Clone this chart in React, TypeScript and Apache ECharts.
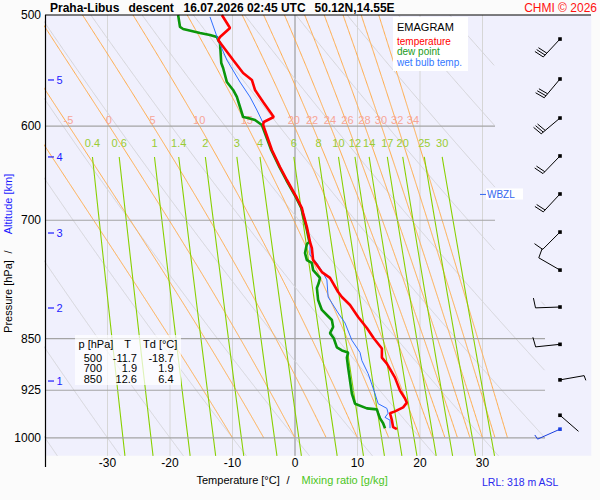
import React, { useEffect, useRef } from 'react';
import * as echarts from 'echarts';

const FONT = '"Liberation Sans", Arial, Helvetica, sans-serif';

// ---------------- data (pressure hPa, temperature °C) ----------------
const tempP = [500, 510.8, 518.4, 520.9, 538.3, 549.9, 556.2, 565.4, 576.6, 591.0, 595.9, 598.8, 623.8, 641.5, 655.3, 674.9, 686.1, 691.8, 707.8, 725.4, 732.6, 747.2, 753.3, 762.1, 769.4, 787.4, 793.9, 804.3, 820.3, 835.3, 849.4, 863.7, 876.8, 885.4, 906.0, 925.6, 937.6, 944.0, 951.3, 957.6, 960.5, 971.5, 982.7, 985.9];
const tempT = [-11.7, -10.4, -12.0, -12.3, -9.9, -8.3, -6.9, -6.4, -5.1, -3.4, -5.0, -5.1, -3.7, -2.4, -1.3, 0.3, 1.1, 1.3, 1.9, 2.4, 2.7, 2.9, 3.5, 4.3, 5.6, 6.9, 7.5, 8.8, 10.1, 11.5, 12.6, 13.9, 13.9, 14.7, 16.0, 16.8, 17.6, 17.9, 17.3, 16.0, 15.2, 15.5, 15.7, 16.3];

const dewP = [500, 509.9, 511.6, 515.0, 516.7, 518.4, 520.9, 523.5, 540.9, 545.4, 558.1, 565.4, 571.9, 581.4, 591.0, 592.0, 593.9, 598.8, 623.8, 641.5, 655.3, 674.9, 686.1, 691.8, 707.8, 725.4, 727.9, 738.6, 747.2, 750.8, 759.6, 769.4, 775.8, 782.2, 797.8, 810.9, 817.6, 824.4, 833.9, 842.3, 849.4, 862.3, 866.5, 869.4, 876.8, 891.2, 910.5, 930.2, 945.6, 952.9, 954.5, 960.5, 968.6, 976.3, 984.3];
const dewT = [-18.7, -18.4, -17.9, -15.2, -13.6, -12.5, -12.3, -12.0, -11.8, -11.5, -10.9, -9.9, -9.3, -8.8, -8.3, -7.5, -6.4, -5.3, -3.8, -2.5, -1.4, 0.2, 1.0, 1.2, 1.8, 2.3, 1.9, 1.6, 1.9, 2.7, 2.9, 4.0, 3.8, 3.5, 3.7, 4.3, 5.1, 5.9, 6.1, 5.6, 6.2, 6.7, 7.5, 8.5, 8.3, 8.5, 8.8, 9.1, 9.6, 11.5, 13.1, 13.3, 13.6, 14.1, 14.4];

const wbP = [501.6, 520.9, 538.3, 558.1, 571.9, 584.3, 596.9, 598.8, 623.8, 641.5, 655.3, 674.9, 686.1, 691.8, 707.8, 725.4, 727.9, 741.0, 750.8, 763.3, 771.9, 793.9, 814.9, 828.4, 852.2, 869.4, 881.1, 900.1, 930.2, 945.6, 952.9, 960.5, 967.0, 971.5, 984.3];
const wbT = [-13.6, -12.3, -10.9, -8.8, -7.2, -6.1, -5.1, -5.1, -3.7, -2.4, -1.3, 0.3, 1.1, 1.3, 1.9, 2.4, 2.4, 2.4, 3.5, 4.5, 5.1, 5.3, 6.9, 8.0, 9.1, 10.4, 10.7, 11.7, 12.8, 13.3, 14.7, 14.9, 14.4, 15.2, 15.2];

// wind barbs (pressure, direction deg, speed kt)
const barbP = [520.1, 555.3, 592.0, 630.0, 670.5, 713.7, 759.6, 807.0, 857.9, 909.4, 963.7];
const barbDir = [223, 220, 230, 224, 223, 225, 300, 268, 264, 80, 131];
const barbSpd = [30, 30, 30, 20, 20, 10, 10, 10, 10, 5, 2];
const sfcP = [985.9];
const sfcDir = [246];
const sfcSpd = [5];

// axes / reference lines
const pressureTicks = [500, 600, 700, 850, 925, 1000];
const isobarP = [600, 700, 850, 925, 1000];
const isotherms = [-30, -20, -10, 0, 10, 20, 30];
const dryThetas = [-40, -30, -20, -10, 0, 10, 20, 30, 40, 50, 60, 70, 80, 90, 100];
const moistThetas = [-10, -5, 0, 5, 10, 15, 20, 22, 24, 26, 28, 30, 32, 34];
const mixRatios = [0.4, 0.6, 1, 1.4, 2, 3, 4, 6, 8, 10, 12, 14, 17, 20, 25, 30];
const mixLabels = ['0.4', '0.6', '1', '1.4', '2', '3', '4', '6', '8', '10', '12', '14', '17', '20', '25', '30'];
const altKm = [5, 4, 3, 2, 1];
const altP = [556.2, 631.0, 714.8, 808.3, 911.1];
const wbzlP = [671];

// table
const tableP = ['500', '700', '850'];
const tableT = ['-11.7', '1.9', '12.6'];
const tableTd = ['-18.7', '1.9', '6.4'];

const P_TOP = 500;
const P_BOT = 1030;
const P_MOIST_BOT = 1000;
const T_MIN = -40;
const T_MAX = 47.4;
const BARB_T = 42.4;
const WBZL_T = 29.6;
const MIX_TOP_P = 631;
const MIX_LABEL_P = 616.7;
const MOIST_LABEL_P = 600;
const MOIST_LABEL_Y_P = 593.9;

const LN = Math.log;
const es = (t: number) => 6.112 * Math.exp((17.67 * t) / (t + 243.5));
const rightLimit = (p: number) => (p >= 800 ? 40 : 32);

function dTdp(p: number, T: number) {
  const Rd = 287.04, cp = 1005.7, Lv = 2.501e6, eps = 0.622;
  const e = es(T - 273.15);
  const rs = (eps * e) / (p - e);
  return (Rd * T + Lv * rs) / (p * (cp + (Lv * Lv * rs * eps) / (Rd * T * T)));
}

function moistProfile(thw: number): [number, number][] {
  const up: [number, number][] = [[1000, thw]];
  let T = thw + 273.15;
  for (let p = 1000; p > P_TOP; p--) {
    const k1 = dTdp(p, T);
    const k2 = dTdp(p - 0.5, T - 0.5 * k1);
    T -= k2;
    up.push([p - 1, T - 273.15]);
  }
  up.reverse();
  return up.filter((d) => d[0] <= P_MOIST_BOT);
}

function dryProfile(thC: number): [number, number][] {
  const out: [number, number][] = [];
  for (let p = P_TOP; p <= P_BOT; p += 1) {
    out.push([p, (thC + 273.15) * Math.pow(p / 1000, 0.2857) - 273.15]);
  }
  return out;
}

function mixTd(w: number, p: number) {
  const e = (w * p) / (622 + w);
  const l = Math.log(e / 6.112);
  return (243.5 * l) / (17.67 - l);
}

function mixProfile(w: number): [number, number][] {
  const out: [number, number][] = [];
  for (let p = MIX_TOP_P; p <= P_BOT; p += 10) out.push([p, mixTd(w, p)]);
  out.push([P_BOT, mixTd(w, P_BOT)]);
  return out;
}

function segments(pts: [number, number][]): [number, number][][] {
  const segs: [number, number][][] = [];
  let cur: [number, number][] = [];
  for (const [p, t] of pts) {
    if (t <= rightLimit(p) && t >= -70) {
      cur.push([t, LN(p)]);
    } else if (cur.length) {
      segs.push(cur);
      cur = [];
    }
  }
  if (cur.length) segs.push(cur);
  return segs.filter((s) => s.length > 1);
}

function interpAt(pts: [number, number][], p: number) {
  for (let i = 1; i < pts.length; i++) {
    if (pts[i][0] >= p) {
      const [p0, t0] = pts[i - 1];
      const [p1, t1] = pts[i];
      return t0 + ((t1 - t0) * (p - p0)) / (p1 - p0);
    }
  }
  return pts[pts.length - 1][1];
}

function line(data: any[], color: string, width: number, z: number) {
  return {
    type: 'line',
    data,
    showSymbol: false,
    symbol: 'none',
    silent: true,
    z,
    lineStyle: { color, width },
    emphasis: { disabled: true },
    animation: false,
  };
}

function barbChildren(cx: number, cy: number, dir: number, spd: number, color: string) {
  const L = 24.5;
  const r = (dir * Math.PI) / 180;
  const sx = Math.sin(r);
  const sy = -Math.cos(r);
  const ex = cx + L * sx;
  const ey = cy + L * sy;
  const a = (80 * Math.PI) / 180;
  const bx = sx * Math.cos(a) - sy * Math.sin(a);
  const by = sx * Math.sin(a) + sy * Math.cos(a);
  const ch: any[] = [
    { type: 'line', shape: { x1: cx, y1: cy, x2: ex, y2: ey }, style: { stroke: color, lineWidth: 1 } },
    { type: 'rect', shape: { x: cx - 1.8, y: cy - 1.8, width: 3.6, height: 3.6 }, style: { fill: color } },
  ];
  let full = Math.floor(spd / 10);
  const half = spd % 10 >= 5 ? 1 : 0;
  let k = 0;
  const step = 2.6;
  while (full > 0) {
    const px = ex - k * step * sx;
    const py = ey - k * step * sy;
    ch.push({ type: 'line', shape: { x1: px, y1: py, x2: px + 10 * bx, y2: py + 10 * by }, style: { stroke: color, lineWidth: 1 } });
    k++;
    full--;
  }
  if (half) {
    const px = ex - k * step * sx;
    const py = ey - k * step * sy;
    ch.push({ type: 'line', shape: { x1: px, y1: py, x2: px + 5 * bx, y2: py + 5 * by }, style: { stroke: color, lineWidth: 1 } });
  }
  return ch;
}

function buildOption() {
  const series: any[] = [];

  // isotherms
  isotherms.forEach((t) => {
    series.push(line([[t, LN(P_TOP)], [t, LN(P_BOT)]], t === 0 ? '#8c8c8c' : '#d6d6d6', 1, 1));
  });
  // dry adiabats
  dryThetas.forEach((th) => {
    segments(dryProfile(th)).forEach((s) => series.push(line(s, '#d4d4d8', 1, 1)));
  });
  // moist adiabats
  const moistPts = moistThetas.map((th) => moistProfile(th));
  moistPts.forEach((pts) => {
    segments(pts).forEach((s) => series.push(line(s, '#ffab4a', 1, 2)));
  });
  // mixing ratio lines
  mixRatios.forEach((w) => {
    segments(mixProfile(w)).forEach((s) => series.push(line(s, '#88d000', 1.1, 2)));
  });
  // isobars
  isobarP.forEach((p) => {
    series.push(line([[T_MIN, LN(p)], [rightLimit(p), LN(p)]], '#a4a4a4', 1.2, 3));
  });

  // moist adiabat labels
  const moistLbl = moistThetas
    .map((th, i) => ({ th, t: interpAt(moistPts[i], MOIST_LABEL_P) }))
    .filter((d) => d.t > T_MIN + 1);
  series.push({
    type: 'custom',
    coordinateSystem: 'cartesian2d',
    clip: false,
    silent: true,
    z: 4,
    data: moistLbl.map((d) => [d.t, LN(MOIST_LABEL_Y_P)]),
    renderItem: (params: any, api: any) => {
      const d = moistLbl[params.dataIndex];
      const pt = api.coord([d.t, LN(MOIST_LABEL_Y_P)]);
      return {
        type: 'text',
        x: pt[0] - 0.5,
        y: pt[1],
        style: { text: String(d.th), fill: '#f7a596', font: `11px ${FONT}`, align: 'center', verticalAlign: 'middle' },
      };
    },
  });

  // mixing ratio labels
  series.push({
    type: 'custom',
    coordinateSystem: 'cartesian2d',
    clip: false,
    silent: true,
    z: 4,
    data: mixRatios.map((w) => [mixTd(w, MIX_TOP_P), LN(MIX_LABEL_P)]),
    renderItem: (params: any, api: any) => {
      const w = mixRatios[params.dataIndex];
      const pt = api.coord([mixTd(w, MIX_TOP_P), LN(MIX_LABEL_P)]);
      return {
        type: 'text',
        x: pt[0],
        y: pt[1],
        style: { text: mixLabels[params.dataIndex], fill: '#99cc33', font: `11px ${FONT}`, align: 'center', verticalAlign: 'middle' },
      };
    },
  });

  // pressure labels
  series.push({
    type: 'custom',
    coordinateSystem: 'cartesian2d',
    clip: false,
    silent: true,
    z: 4,
    data: pressureTicks.map((p) => [T_MIN, LN(p)]),
    renderItem: (params: any, api: any) => {
      const p = pressureTicks[params.dataIndex];
      const pt = api.coord([T_MIN, LN(p)]);
      return {
        type: 'text',
        x: pt[0] - 4,
        y: pt[1],
        style: { text: String(p), fill: '#000', font: `12px ${FONT}`, align: 'right', verticalAlign: 'middle' },
      };
    },
  });

  // altitude ticks
  series.push({
    type: 'custom',
    coordinateSystem: 'cartesian2d',
    clip: false,
    silent: true,
    z: 4,
    data: altP.map((p) => [T_MIN, LN(p)]),
    renderItem: (params: any, api: any) => {
      const pt = api.coord([T_MIN, LN(altP[params.dataIndex])]);
      return {
        type: 'group',
        children: [
          { type: 'line', shape: { x1: pt[0] + 3, y1: pt[1], x2: pt[0] + 9, y2: pt[1] }, style: { stroke: '#1c1cff', lineWidth: 1.2 } },
          {
            type: 'text',
            x: pt[0] + 11.5,
            y: pt[1],
            style: { text: String(altKm[params.dataIndex]), fill: '#1c1cff', font: `11px ${FONT}`, align: 'left', verticalAlign: 'middle' },
          },
        ],
      };
    },
  });

  // WBZL marker
  series.push({
    type: 'custom',
    coordinateSystem: 'cartesian2d',
    clip: false,
    silent: true,
    z: 6,
    data: wbzlP.map((p) => [WBZL_T, LN(p)]),
    renderItem: (params: any, api: any) => {
      const pt = api.coord([WBZL_T, LN(wbzlP[params.dataIndex])]);
      return {
        type: 'group',
        children: [
          { type: 'rect', shape: { x: pt[0] + 6, y: pt[1] - 6, width: 37, height: 11 }, style: { fill: '#ffffff' } },
          { type: 'line', shape: { x1: pt[0], y1: pt[1], x2: pt[0] + 6, y2: pt[1] }, style: { stroke: '#3366ee', lineWidth: 1 } },
          { type: 'text', x: pt[0] + 7, y: pt[1], style: { text: 'WBZL', fill: '#3366ee', font: `10px ${FONT}`, align: 'left', verticalAlign: 'middle' } },
        ],
      };
    },
  });

  // profiles
  series.push(line(dewP.map((p, i) => [dewT[i], LN(p)]), '#0b960b', 2.6, 7));
  series.push(line(wbP.map((p, i) => [wbT[i], LN(p)]), '#2f6fff', 1, 8));
  series.push(line(tempP.map((p, i) => [tempT[i], LN(p)]), '#ff0000', 2.6, 9));

  // wind barbs
  series.push({
    type: 'custom',
    coordinateSystem: 'cartesian2d',
    clip: false,
    silent: true,
    z: 9,
    data: barbP.map((p) => [BARB_T, LN(p)]),
    renderItem: (params: any, api: any) => {
      const i = params.dataIndex;
      const pt = api.coord([BARB_T, LN(barbP[i])]);
      return { type: 'group', children: barbChildren(pt[0], pt[1], barbDir[i], barbSpd[i], '#000000') };
    },
  });
  series.push({
    type: 'custom',
    coordinateSystem: 'cartesian2d',
    clip: false,
    silent: true,
    z: 9,
    data: sfcP.map((p) => [BARB_T, LN(p)]),
    renderItem: (params: any, api: any) => {
      const i = params.dataIndex;
      const pt = api.coord([BARB_T, LN(sfcP[i])]);
      return { type: 'group', children: barbChildren(pt[0], pt[1], sfcDir[i], sfcSpd[i], '#1a3fe0') };
    },
  });

  const txt = (text: string, x: number, y: number, fill: string, font: string, align = 'left', extra: any = {}, lh?: number) => ({
    type: 'text',
    x,
    y,
    z: 60,
    silent: true,
    style: { text, fill, font, align, verticalAlign: 'middle', ...(lh ? { lineHeight: lh } : {}) },
    ...extra,
  });

  const tableRows: any[] = [];
  tableP.forEach((p, i) => {
    const y = 357.5 + i * 10.7;
    tableRows.push(txt(p, 102, y, '#000', `11px ${FONT}`, 'right', {}, 10));
    tableRows.push(txt(tableT[i], 137, y, '#000', `11px ${FONT}`, 'right', {}, 10));
    tableRows.push(txt(tableTd[i], 173.5, y, '#000', `11px ${FONT}`, 'right', {}, 10));
  });

  const graphic: any[] = [
    // frame lines
    { type: 'line', z: 60, silent: true, shape: { x1: 45.5, y1: 15, x2: 45.5, y2: 467 }, style: { stroke: '#000', lineWidth: 1.2 } },
    { type: 'line', z: 60, silent: true, shape: { x1: 45, y1: 15, x2: 591, y2: 15 }, style: { stroke: '#000', lineWidth: 1.2 } },
    // title
    txt('Praha-Libus', 50, 7.5, '#000', `bold 12px ${FONT}`),
    txt('descent', 128.5, 7.5, '#000', `bold 12px ${FONT}`),
    txt('16.07.2026 02:45 UTC', 183.5, 7.5, '#000', `bold 12px ${FONT}`),
    txt('50.12N,14.55E', 314.5, 7.5, '#000', `bold 12px ${FONT}`),
    txt('CHMI \u00a9 2026', 597, 7.5, '#ff1010', `12px ${FONT}`, 'right'),
    // legend
    { type: 'rect', z: 55, silent: true, shape: { x: 393, y: 17, width: 75, height: 54 }, style: { fill: '#ffffff' } },
    txt('EMAGRAM', 397, 26.5, '#000', `11px ${FONT}`, 'left', {}, 11),
    txt('temperature', 397, 41.3, '#ff0000', `10px ${FONT}`, 'left', {}, 10),
    txt('dew point', 397, 51.8, '#1a9a1a', `10px ${FONT}`, 'left', {}, 10),
    txt('wet bulb temp.', 397, 62.3, '#3377ff', `10px ${FONT}`, 'left', {}, 10),
    // table
    { type: 'rect', z: 55, silent: true, shape: { x: 75, y: 335, width: 106, height: 50 }, style: { fill: 'rgba(255,255,255,0.72)' } },
    txt('p [hPa]', 78.5, 343.5, '#000', `11px ${FONT}`),
    txt('T', 127.5, 343.5, '#000', `11px ${FONT}`, 'center'),
    txt('Td [\u00b0C]', 143, 343.5, '#000', `11px ${FONT}`),
    ...tableRows,
    // axis titles
    txt('Temperature [\u00b0C]', 196.5, 480, '#000', `11px ${FONT}`),
    txt('/', 286.5, 480, '#000', `11px ${FONT}`),
    txt('Mixing ratio [g/kg]', 301.5, 480, '#4cc61c', `11px ${FONT}`),
    txt('LRL: 318 m ASL', 482, 481.5, '#2a2aee', `10.5px ${FONT}`),
    txt('Pressure [hPa]', 8, 296.5, '#000', `11px ${FONT}`, 'center', { rotation: Math.PI / 2 }),
    txt('/', 8, 252, '#000', `11px ${FONT}`, 'center', { rotation: Math.PI / 2 }),
    txt('Altitude [km]', 8, 204, '#1c1cff', `11px ${FONT}`, 'center', { rotation: Math.PI / 2 }),
  ];

  return {
    animation: false,
    backgroundColor: '#fbfbfb',
    grid: {
      left: 45,
      top: 15,
      width: (T_MAX - T_MIN) * 6.25,
      height: 610 * LN(P_BOT / P_TOP),
      show: true,
      backgroundColor: '#f0f0fd',
      borderWidth: 0,
    },
    xAxis: {
      type: 'value',
      min: T_MIN,
      max: T_MAX,
      interval: 10,
      axisLine: { show: false },
      axisTick: { show: false },
      splitLine: { show: false },
      axisLabel: {
        formatter: (v: number) => (v >= -30 && v <= 30 ? String(v) : ''),
        color: '#000',
        fontSize: 12,
        fontFamily: FONT,
        margin: 1,
        showMinLabel: true,
        showMaxLabel: false,
      },
    },
    yAxis: {
      type: 'value',
      inverse: true,
      min: LN(P_TOP),
      max: LN(P_BOT),
      show: false,
      splitLine: { show: false },
    },
    series,
    graphic,
  };
}

export default function App() {
  const ref = useRef<HTMLDivElement>(null);
  useEffect(() => {
    if (!ref.current) return;
    const chart = echarts.init(ref.current, null, { renderer: 'svg' });
    chart.setOption(buildOption() as any);
    return () => chart.dispose();
  }, []);
  return <div ref={ref} style={{ position: 'absolute', left: 0, top: 0, width: 600, height: 500 }} />;
}
